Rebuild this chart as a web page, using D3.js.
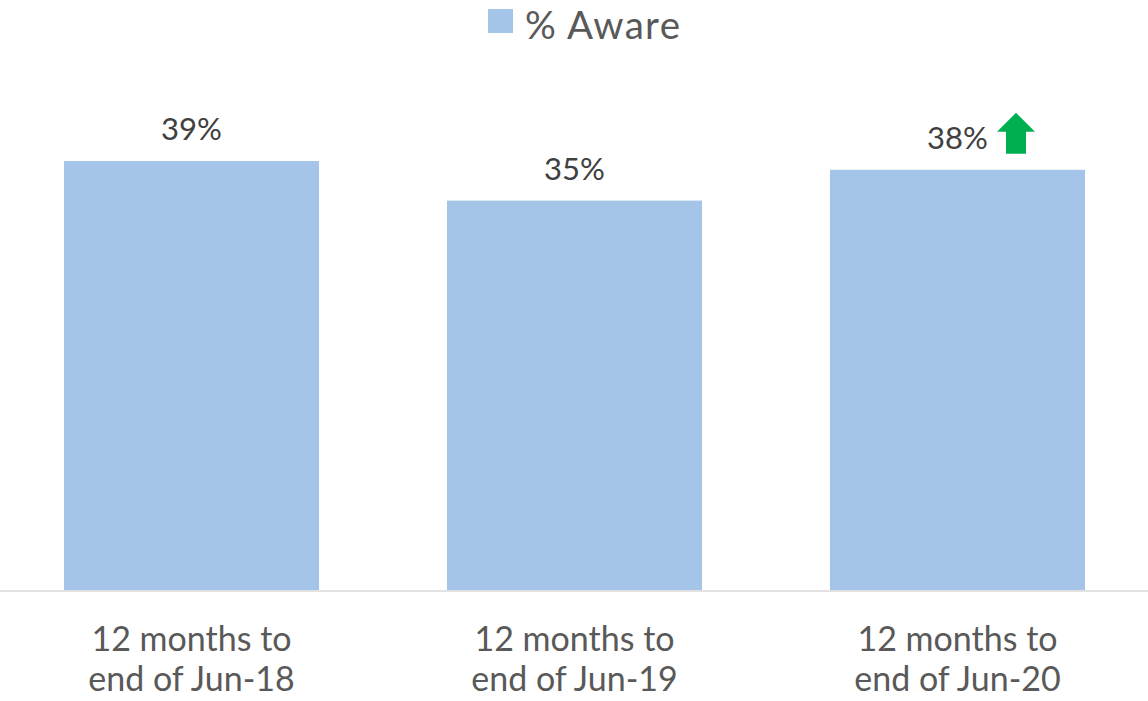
<!DOCTYPE html>
<html>
<head>
<meta charset="utf-8">
<script src="https://cdn.jsdelivr.net/npm/d3@7"></script>
<style>
  html, body { margin: 0; padding: 0; background: #fff; }
  svg { display: block; }
  text { font-family: Lato, "Open Sans", sans-serif; }
</style>
</head>
<body>
<svg id="chart" width="1148" height="701"></svg>
<script>
const categories = [["12 months to", "end of Jun-18"], ["12 months to", "end of Jun-19"], ["12 months to", "end of Jun-20"]];
const awareValues = [39.0, 35.4, 38.2];
const valueLabels = ["39%", "35%", "38%"];
const changeMarkers = ["", "", "up"];
const seriesName = "% Aware";

const W = 1148, H = 701;
const baseY = 590;
const svg = d3.select("#chart");

const x = d3.scaleBand()
  .domain(d3.range(categories.length))
  .range([0, 1149])
  .paddingInner(0.334)
  .paddingOuter(0.167);

const y = d3.scaleLinear().domain([0, 45]).range([baseY, 95]);

// legend
const lg = svg.append("g");
lg.append("rect").attr("x", 488).attr("y", 9).attr("width", 25).attr("height", 24).attr("fill", "#A4C5E7");
lg.append("text").attr("x", 525).attr("y", 38.5).attr("font-size", 38.5)
  .attr("textLength", 155).attr("lengthAdjust", "spacing")
  .attr("fill", "#595959").text(seriesName);

// bars
svg.append("g").selectAll("rect").data(awareValues).join("rect")
  .attr("x", (d, i) => x(i))
  .attr("y", d => y(d))
  .attr("width", x.bandwidth())
  .attr("height", d => baseY - y(d))
  .attr("fill", "#A4C5E7");

// axis line
svg.append("line").attr("x1", 0).attr("x2", W).attr("y1", baseY + 1).attr("y2", baseY + 1)
  .attr("stroke", "#D9D9D9").attr("stroke-width", 1.5);

// value labels
svg.append("g").selectAll("text").data(awareValues).join("text")
  .attr("x", (d, i) => x(i) + x.bandwidth() / 2)
  .attr("y", d => y(d) - 21)
  .attr("text-anchor", "middle")
  .attr("font-size", 31)
  .attr("fill", "#404040")
  .text((d, i) => valueLabels[i]);

// change arrows
changeMarkers.forEach((m, i) => {
  if (m !== "up") return;
  const cx = x(i) + x.bandwidth() / 2 + 58.5;
  const top = y(awareValues[i]) - 57;
  const p = d3.path();
  p.moveTo(cx, top);
  p.lineTo(cx + 19, top + 19);
  p.lineTo(cx + 10, top + 19);
  p.lineTo(cx + 10, top + 41);
  p.lineTo(cx - 10, top + 41);
  p.lineTo(cx - 10, top + 19);
  p.lineTo(cx - 19, top + 19);
  p.closePath();
  svg.append("path").attr("d", p.toString()).attr("fill", "#00B050");
});

// category labels
const cg = svg.append("g").selectAll("text").data(categories).join("text")
  .attr("x", (d, i) => x(i) + x.bandwidth() / 2)
  .attr("y", 651)
  .attr("text-anchor", "middle")
  .attr("font-size", 34)
  .attr("fill", "#595959");
cg.selectAll("tspan").data(d => d).join("tspan")
  .attr("x", function() { return d3.select(this.parentNode).attr("x"); })
  .attr("dy", (d, j) => j === 0 ? 0 : 40)
  .text(d => d);
</script>
</body>
</html>
